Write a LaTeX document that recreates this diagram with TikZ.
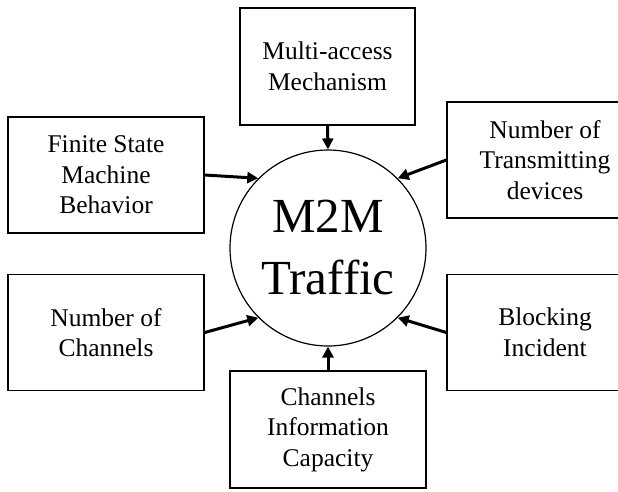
\documentclass[tikz,border=0pt]{standalone}
\usepackage{fontspec}
\setmainfont{Liberation Serif}
\usetikzlibrary{arrows.meta}

\begin{document}
\begin{tikzpicture}[x=1pt, y=-1pt,
    factor/.style={draw, line width=1.4pt, minimum width=196pt, minimum height=116pt,
        inner sep=0pt, align=center, font=\fontsize{25.5}{30.5}\selectfont},
    feed/.style={line width=3pt, -{Triangle[length=11pt,width=11pt]}}]
    \useasboundingbox (0,0) rectangle (618,491);
    \clip (0,0) rectangle (618,491);

    % Central node
    \node[draw, circle, line width=1.2pt, minimum size=196pt, inner sep=0pt, align=center,
        font=\fontsize{49}{62}\selectfont] (m2m) at (328,248) {M2M\\Traffic};

    % Factors
    \node[factor, minimum width=175pt, minimum height=117pt] (mam) at (327.5,66.5) {Multi-access\\Mechanism};
    \node[factor] (fsm) at (106,175) {Finite State\\Machine\\Behavior};
    \node[factor] (ntd) at (545,160) {Number of\\Transmitting\\devices};
    \node[factor] (noc) at (106,332.5) {Number of\\Channels};
    \node[factor] (bi) at (545,332.5) {Blocking\\Incident};
    \node[factor, minimum height=117pt] (cic) at (328,429.5) {Channels\\Information\\Capacity};

    % Influences
    \draw[feed] (mam.south) -- (m2m.90);
    \draw[feed] (fsm.east) -- (m2m.135);
    \draw[feed] (ntd.west) -- (m2m.45);
    \draw[feed] (noc.east) -- (m2m.225);
    \draw[feed] (bi.west) -- (m2m.315);
    \draw[feed] (cic.north) -- (m2m.270);
\end{tikzpicture}
\end{document}
